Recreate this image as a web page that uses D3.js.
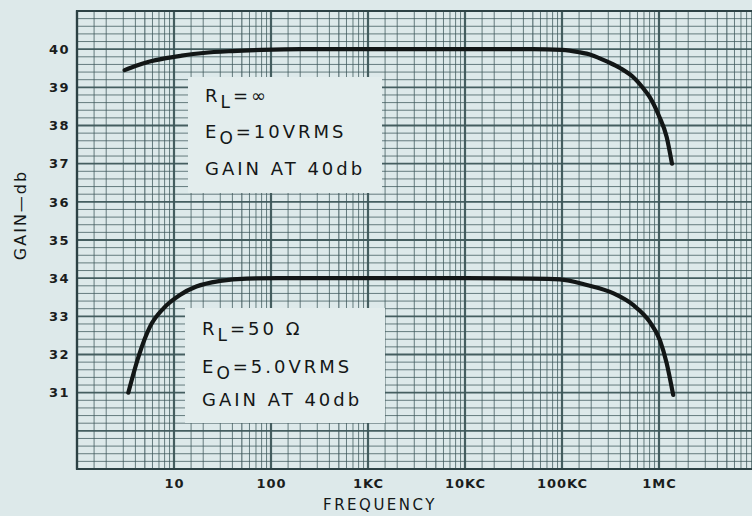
<!DOCTYPE html>
<html lang="en">
<head>
	<meta charset="utf-8">
	<title>Gain vs Frequency</title>
	<script src='https://d3js.org/d3.v7.min.js'></script>
	<style>
		body {margin:0; background:#dde9ea;}
		svg {display:block;}
		.tick text {font-family:"DejaVu Sans", sans-serif; font-weight:bold; fill:#1a1d1d;}
	</style>
</head>
<body>
	<div id="chart"></div>
	<script>
		// frequency axis (Hz) and labels
		const freqTickValues = [10, 100, 1000, 10000, 100000, 1000000];
		const freqTickLabels = ["10", "100", "1KC", "10KC", "100KC", "1MC"];
		// gain axis (db)
		const gainTickValues = [40, 39, 38, 37, 36, 35, 34, 33, 32, 31];

		// R_L = infinity curve
		const infFreq = [3.1, 4, 5.5, 8, 12, 20, 40, 80, 200, 1000, 10000, 50000, 100000, 150000, 200000, 300000, 400000, 540000, 700000, 800000, 1000000, 1200000, 1360000];
		const infGain = [39.45, 39.56, 39.67, 39.76, 39.83, 39.9, 39.95, 39.98, 40.0, 40.0, 40.0, 40.0, 39.98, 39.92, 39.85, 39.66, 39.5, 39.27, 38.95, 38.75, 38.25, 37.7, 37.0];

		// R_L = 50 ohm curve
		const ohmFreq = [3.38, 4.3, 5.66, 7.8, 11.5, 17, 30, 56, 150, 1000, 10000, 50000, 95000, 180000, 340000, 540000, 800000, 1020000, 1200000, 1400000];
		const ohmGain = [31.0, 31.94, 32.73, 33.21, 33.56, 33.78, 33.93, 33.99, 34.0, 34.0, 34.0, 33.99, 33.97, 33.82, 33.6, 33.3, 32.86, 32.38, 31.77, 30.94];

		const width = 752;
		const height = 516;
		const plotLeft = 77, plotRight = 756, plotTop = 11, plotBottom = 469;

		var svg = d3.select("#chart")
					.append("svg")
					.attr("width", width)
					.attr("height", height);

		var x = d3.scaleLog()
				  .domain([1, 1e7])
				  .range([plotLeft, plotRight]);
		var y = d3.scaleLinear()
				  .domain([29, 41])
				  .range([plotBottom, plotTop]);

		var grid = svg.append("g").attr("stroke", "#3c5659");

		// vertical grid lines, log paper style
		var subs = [1, 1.5, 2, 3, 4, 5, 6, 7, 8, 9];
		var vLines = [];
		for (var dec = 1; dec < 1e7; dec *= 10) {
			subs.forEach(function (m) { vLines.push({v: dec * m, m: m}); });
		}
		grid.selectAll("line.v")
			.data(vLines)
			.enter()
			.append("line")
			.attr("class", "v")
			.attr("x1", function (d) { return x(d.v); })
			.attr("x2", function (d) { return x(d.v); })
			.attr("y1", plotTop)
			.attr("y2", plotBottom)
			.attr("stroke-width", function (d) { return d.m == 1 ? 2.2 : (d.m == 5 ? 1.3 : 1); })
			.attr("stroke-opacity", function (d) { return d.m == 1 ? 0.95 : 0.75; });

		// horizontal grid lines every 0.2 db
		var hLines = d3.range(0, 61).map(function (i) { return 29 + i * 0.2; });
		grid.selectAll("line.h")
			.data(hLines)
			.enter()
			.append("line")
			.attr("class", "h")
			.attr("x1", plotLeft)
			.attr("x2", width)
			.attr("y1", function (d) { return y(d); })
			.attr("y2", function (d) { return y(d); })
			.attr("stroke-width", function (d) { return Math.abs(d - Math.round(d)) < 0.01 ? 1.8 : 1; })
			.attr("stroke-opacity", function (d) { return Math.abs(d - Math.round(d)) < 0.01 ? 0.95 : 0.75; });

		// border
		svg.append("path")
		   .attr("d", "M" + width + "," + plotTop + "H" + plotLeft + "V" + plotBottom + "H" + width)
		   .attr("fill", "none")
		   .attr("stroke", "#2c4144")
		   .attr("stroke-width", 2.2);

		// label boxes hide the grid
		var boxes = [
			{x: 188, y: 77, w: 194, h: 116, lines: [["R", "L", "=\u221e"], ["E", "O", "=10VRMS"], ["GAIN AT 40db"]]},
			{x: 185, y: 308, w: 200, h: 115, lines: [["R", "L", "=50 \u03a9"], ["E", "O", "=5.0VRMS"], ["GAIN AT 40db"]]}
		];
		var baselines = [[102, 138, 175], [335, 373, 406]];
		boxes.forEach(function (b, bi) {
			svg.append("rect")
			   .attr("x", b.x).attr("y", b.y)
			   .attr("width", b.w).attr("height", b.h)
			   .attr("fill", "#e3eded");
			b.lines.forEach(function (ln, li) {
				var t = svg.append("text")
						   .attr("x", b.x + 17)
						   .attr("y", baselines[bi][li])
						   .attr("font-family", "DejaVu Sans, sans-serif")
						   .attr("font-size", 18)
						   .attr("letter-spacing", 3)
						   .attr("fill", "#141717");
				if (ln.length == 1) {
					t.text(ln[0]);
				} else {
					t.append("tspan").text(ln[0]);
					t.append("tspan").attr("dy", 6).attr("font-size", 17).text(ln[1]);
					t.append("tspan").attr("dy", -6).text(ln[2]);
				}
			});
		});

		// curves
		var line = d3.line()
					 .x(function (d) { return x(d[0]); })
					 .y(function (d) { return y(d[1]); })
					 .curve(d3.curveMonotoneX);
		[[infFreq, infGain], [ohmFreq, ohmGain]].forEach(function (s) {
			svg.append("path")
			   .datum(d3.zip(s[0], s[1]))
			   .attr("d", line)
			   .attr("fill", "none")
			   .attr("stroke", "#121616")
			   .attr("stroke-width", 4.2)
			   .attr("stroke-linecap", "round");
		});

		// axes
		var xAxis = svg.append("g")
					   .attr("transform", "translate(0," + plotBottom + ")")
					   .call(d3.axisBottom(x)
							   .tickValues(freqTickValues)
							   .tickSize(0)
							   .tickPadding(10)
							   .tickFormat(function (d, i) { return freqTickLabels[i]; }));
		xAxis.select(".domain").remove();
		xAxis.selectAll("text").attr("font-size", 13).attr("letter-spacing", 1);

		var yAxis = svg.append("g")
					   .attr("transform", "translate(" + plotLeft + ",0)")
					   .call(d3.axisLeft(y)
							   .tickValues(gainTickValues)
							   .tickSize(0)
							   .tickPadding(7));
		yAxis.select(".domain").remove();
		yAxis.selectAll("text").attr("font-size", 13).attr("letter-spacing", 1.5);

		svg.append("text")
		   .attr("transform", "translate(26,215) rotate(-90)")
		   .attr("text-anchor", "middle")
		   .attr("font-family", "DejaVu Sans, sans-serif")
		   .attr("font-size", 16)
		   .attr("letter-spacing", 2)
		   .attr("fill", "#141717")
		   .text("GAIN\u2014db");

		svg.append("text")
		   .attr("x", 380)
		   .attr("y", 510)
		   .attr("text-anchor", "middle")
		   .attr("font-family", "DejaVu Sans, sans-serif")
		   .attr("font-size", 15)
		   .attr("letter-spacing", 2.5)
		   .attr("fill", "#141717")
		   .text("FREQUENCY");
	</script>
</body>
</html>
